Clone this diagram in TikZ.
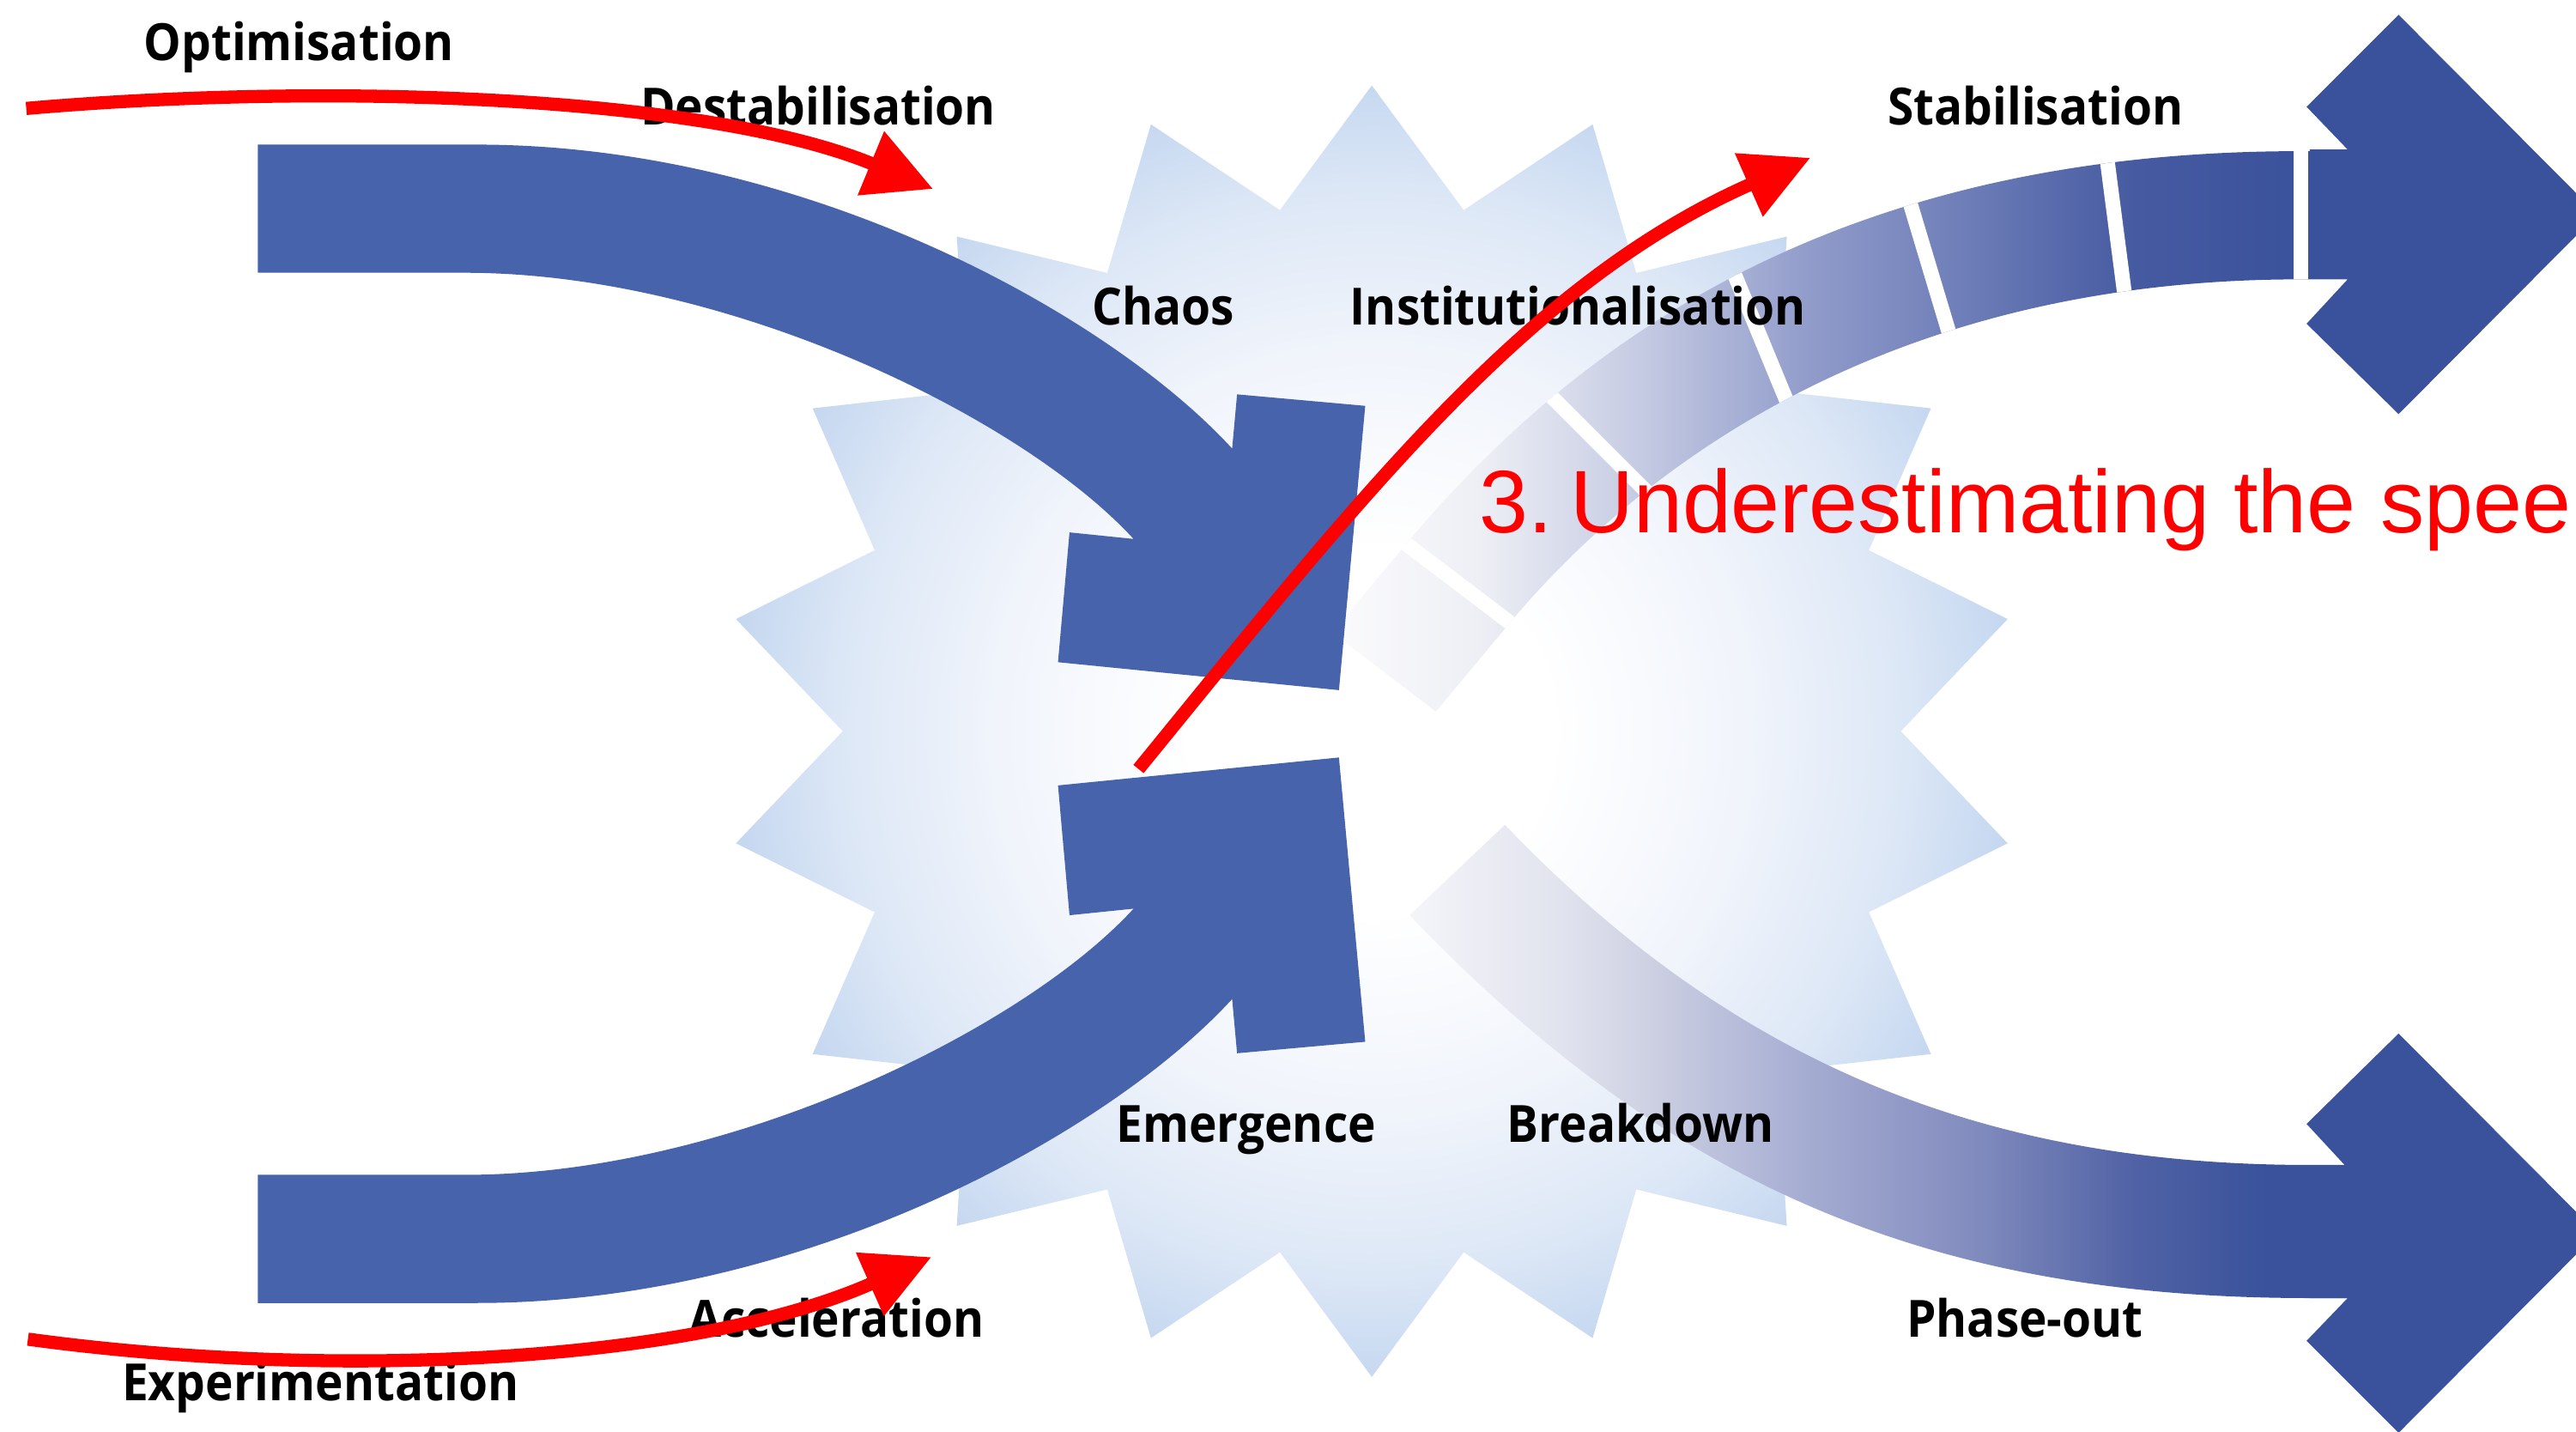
\documentclass[tikz,border=0pt]{standalone}
\usepackage{fontspec}
\setmainfont{Liberation Sans}
\newfontfamily\labfont{Open Sans}[FakeStretch=0.92]
\newfontfamily\notefont{Liberation Sans}[FakeStretch=0.99]
\usetikzlibrary{arrows.meta}

% palette
\definecolor{bandblue}{RGB}{71,99,171}
\definecolor{headblue}{RGB}{57,82,155}
\definecolor{glowA}{RGB}{240,244,251}
\definecolor{glowB}{RGB}{220,231,246}
\definecolor{startip}{RGB}{198,216,240}
\definecolor{sfA}{RGB}{251,251,253}
\definecolor{sfB}{RGB}{238,239,245}
\definecolor{sfC}{RGB}{196,202,226}
\definecolor{sfD}{RGB}{145,156,202}
\definecolor{sfE}{RGB}{108,124,183}
\definecolor{sfF}{RGB}{70,90,161}
\definecolor{pfA}{RGB}{244,245,249}
\definecolor{pfB}{RGB}{225,227,238}
\definecolor{pfC}{RGB}{207,210,227}
\definecolor{pfD}{RGB}{165,172,210}
\definecolor{pfE}{RGB}{130,140,190}
\definecolor{pfF}{RGB}{80,98,165}

% glow of the burst and colour ramps of the outgoing bands
\pgfdeclareradialshading{starglow}{\pgfpoint{0bp}{0bp}}{color(0bp)=(white); color(7bp)=(white); color(15bp)=(glowA); color(21bp)=(glowB); color(25bp)=(startip); color(50bp)=(startip)}
\pgfdeclarehorizontalshading{stabfade}{100bp}{color(0bp)=(sfA); color(25bp)=(sfA); color(32.5bp)=(sfB); color(40.9bp)=(sfC); color(49.3bp)=(sfD); color(57.7bp)=(sfE); color(66.1bp)=(sfF); color(75bp)=(headblue); color(100bp)=(headblue)}
\pgfdeclarehorizontalshading{phasefade}{100bp}{color(0bp)=(pfA); color(25bp)=(pfA); color(33bp)=(pfB); color(37.4bp)=(pfC); color(46.2bp)=(pfD); color(54.9bp)=(pfE); color(63.6bp)=(pfF); color(70.6bp)=(headblue); color(100bp)=(headblue)}

% outlines used more than once
\newcommand\leftband{(157,88) -- (290,88) .. controls (490,88) and (675.75,191.9) .. (750,273) -- (753,240) -- (831,247) -- (815,420) -- (644,403) -- (651,324) -- (690,328) .. controls (622.5,254.3) and (443,166) .. (283,166) -- (157,166) -- cycle}
\newcommand\stabband{(811,385) -- (856,331) .. controls (960.2,206.9) and (1119,92) .. (1400,92) -- (1406,92) -- (1406,170) -- (1400,170) .. controls (1161,170) and (1007.7,273.3) .. (919,379) -- (874,433) -- cycle}
\newcommand\phaseband{(916,502) .. controls (1054,646) and (1206,709) .. (1406,709) -- (1430,709) -- (1430,790) -- (1406,790) .. controls (1176,790) and (1016.7,722.6) .. (858,557) -- cycle}
\newcommand\rightchevron{(1404,65) -- (1460,9) -- (1581,130.5) -- (1460,252) -- (1404,197) -- (1429,170) -- (1406,170) -- (1406,91) -- (1429,91) -- cycle}

\begin{document}
\begin{tikzpicture}[x=0.019139cm, y=-0.019139cm,
  lab/.style={font={\labfont\bfseries\fontsize{17pt}{20pt}\selectfont}, anchor=base, inner sep=0pt, text=black},
  note/.style={font={\notefont\fontsize{29.4pt}{34pt}\selectfont}, anchor=base west, inner sep=0pt, text=red},
  redarrow/.style={draw=red, line width=0.153cm, -{Triangle[length=0.785cm,width=0.766cm]}},
  gapline/.style={draw=white, line width=0.172cm}]

\useasboundingbox (0,0) rectangle (1568,871);
\clip (0,0) rectangle (1568,871);
\fill[white] (0,0) rectangle (1568,871);

% eighteen-point burst
\begin{scope}[shift={(835,445)}]
  \path[shading=starglow] (0:322) \foreach \k in {1,...,17}{ -- ({\k*20-10}:393) -- ({\k*20}:322) } -- (350:393) -- cycle;
\end{scope}

% segmented band towards stabilisation
\path[shading=stabfade] \stabband;
\begin{scope}
  \clip \stabband;
  \draw[gapline] (1400.5,80) -- (1400.5,185);
  \draw[gapline] (1281,85) -- (1294,185);
  \draw[gapline] (1158,108) -- (1188,208);
  \draw[gapline] (1050,153) -- (1090,250);
  \draw[gapline] (933,230) -- (1005,302);
  \draw[gapline] (844,322) -- (931,388);
\end{scope}
\fill[headblue] \rightchevron;

% band towards phase-out
\path[shading=phasefade] \phaseband;
\begin{scope}[shift={(0,881)}, yscale=-1]
  \fill[headblue] \rightchevron;
\end{scope}

% incoming bands with their blunt heads
\fill[bandblue] \leftband;
\begin{scope}[shift={(0,881)}, yscale=-1]
  \fill[bandblue] \leftband;
\end{scope}

% phase names
\node[lab] (optimisation) at (182,37) {Optimisation};
\node[lab] (destabilisation) at (498,76) {Destabilisation};
\node[lab] (chaos) at (708,198) {Chaos};
\node[lab] (institutionalisation) at (960.5,198) {Institutionalisation};
\node[lab] (stabilisation) at (1239,76) {Stabilisation};
\node[lab] (emergence) at (758.5,695) {Emergence};
\node[lab] (breakdown) at (998.5,695) {Breakdown};
\node[lab] (acceleration) at (509,814) {Acceleration};
\node[lab] (phaseout) at (1232.5,814) {Phase-out};
\node[lab] (experimentation) at (195,852.5) {Experimentation};

% red annotations
\coordinate (optStart) at (16,66);
\coordinate (destTip) at (568,115);
\draw[redarrow] (optStart) .. controls (200,50) and (430,58) .. (destTip);
\coordinate (expStart) at (17,815);
\coordinate (accTip) at (567,765);
\draw[redarrow] (expStart) .. controls (200,840) and (420,830) .. (accTip);
\coordinate (emStart) at (693,468);
\coordinate (stabTip) at (1102,96);
\draw[redarrow] (emStart) .. controls (830,300) and (930,172) .. (stabTip);

\node[note] (speed) at (900,324) {3.\hspace{0.2em}Underestimating the spee};
\end{tikzpicture}
\end{document}
